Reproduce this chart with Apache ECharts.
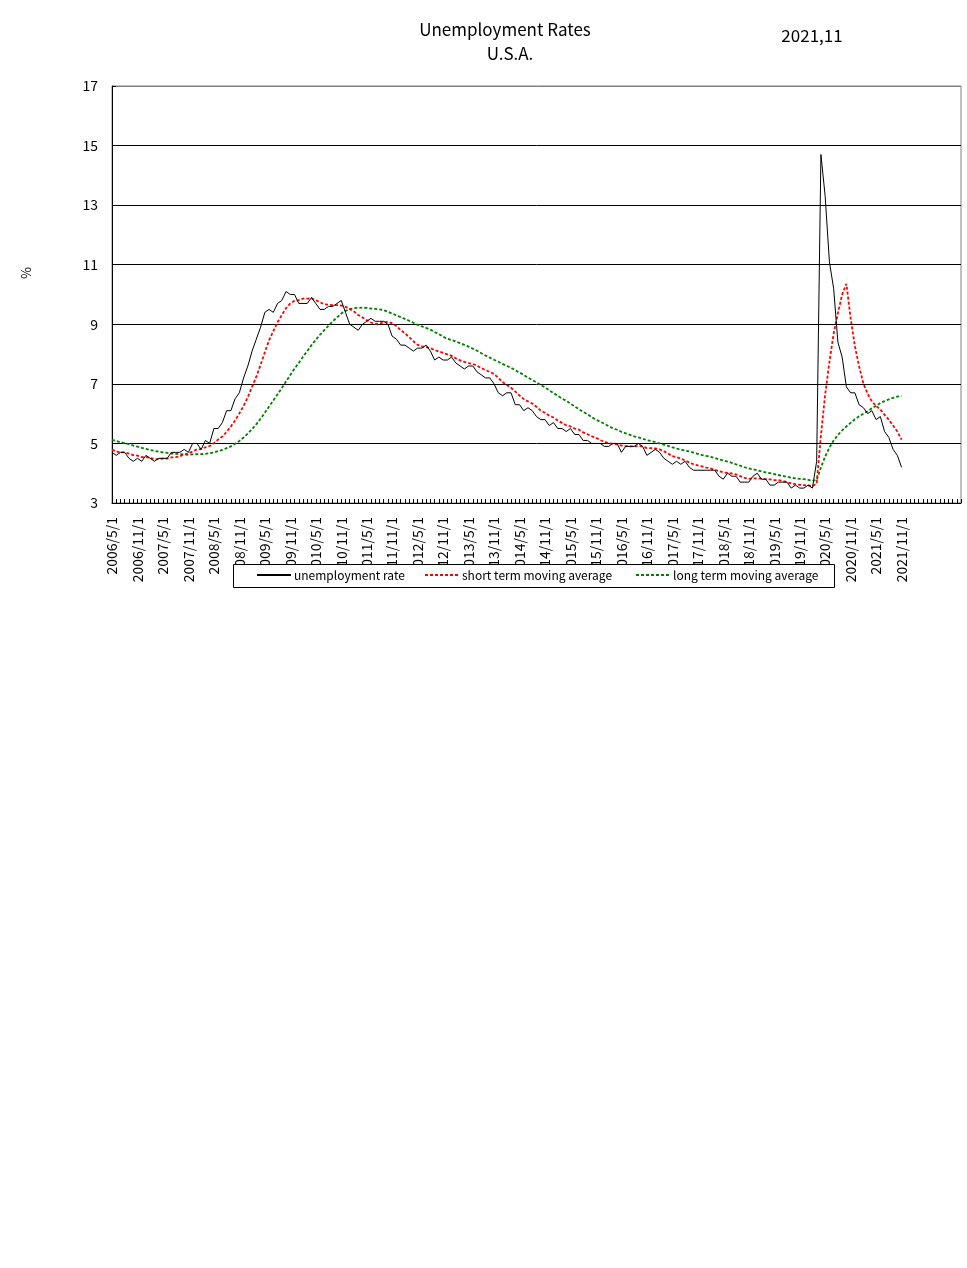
<!DOCTYPE html>
<html>
<head>
<meta charset="utf-8">
<script src="https://cdn.jsdelivr.net/npm/echarts@6/dist/echarts.min.js"></script>
<style>
html,body{margin:0;padding:0;background:#fff;}
#chart{width:967px;height:1268px;}
</style>
</head>
<body>
<div id="chart"></div>
<script>
// monthly categories 2006/5 .. 2021/11, axis continues with blank slots
const startYear = 2006, startMonth = 5, dataMonths = 187, totalSlots = 201;
const categories = [];
for (let i = 0; i < totalSlots; i++) {
  const m = (startMonth - 1 + i) % 12 + 1;
  const y = startYear + Math.floor((startMonth - 1 + i) / 12);
  categories.push(i < dataMonths ? (y + '/' + m + '/1') : '');
}

const unemploymentRate = [
  4.7,4.6,4.7,4.7,4.5,4.4,4.5,4.4,
  4.6,4.5,4.4,4.5,4.5,4.5,4.7,4.7,4.7,4.8,4.7,5.0,
  5.0,4.8,5.1,5.0,5.5,5.5,5.7,6.1,6.1,6.5,6.7,7.2,
  7.6,8.1,8.5,8.9,9.4,9.5,9.4,9.7,9.8,10.1,10.0,10.0,
  9.7,9.7,9.7,9.9,9.7,9.5,9.5,9.6,9.6,9.7,9.8,9.4,
  9.0,8.9,8.8,9.0,9.1,9.2,9.1,9.1,9.1,9.0,8.6,8.5,
  8.3,8.3,8.2,8.1,8.2,8.2,8.3,8.1,7.8,7.9,7.8,7.8,
  7.9,7.7,7.6,7.5,7.6,7.6,7.4,7.3,7.2,7.2,7.0,6.7,
  6.6,6.7,6.7,6.3,6.3,6.1,6.2,6.1,5.9,5.8,5.8,5.6,
  5.7,5.5,5.5,5.4,5.5,5.3,5.3,5.1,5.1,5.0,5.0,5.0,
  4.9,4.9,5.0,5.0,4.7,4.9,4.9,4.9,5.0,4.9,4.6,4.7,
  4.8,4.7,4.5,4.4,4.3,4.4,4.3,4.4,4.2,4.1,4.1,4.1,
  4.1,4.1,4.1,3.9,3.8,4.0,3.9,3.9,3.7,3.7,3.7,3.9,
  4.0,3.8,3.8,3.6,3.6,3.7,3.7,3.7,3.5,3.6,3.5,3.5,
  3.6,3.5,4.4,14.7,13.3,11.1,10.2,8.4,7.9,6.9,6.7,6.7,
  6.3,6.2,6.0,6.1,5.8,5.9,5.4,5.2,4.8,4.6,4.2
];

const shortTermMA = [
  4.79,4.73,4.70,4.70,4.66,4.61,4.59,4.54,
  4.54,4.51,4.47,4.47,4.49,4.49,4.53,4.54,4.57,4.63,4.66,4.73,
  4.80,4.81,4.87,4.91,5.01,5.13,5.23,5.39,5.57,5.77,6.01,6.26,
  6.56,6.90,7.24,7.64,8.06,8.46,8.77,9.07,9.31,9.54,9.70,9.79,
  9.81,9.86,9.86,9.87,9.81,9.74,9.67,9.66,9.64,9.64,9.63,9.59,
  9.51,9.43,9.31,9.23,9.14,9.06,9.01,9.03,9.06,9.09,9.03,8.94,
  8.81,8.70,8.57,8.43,8.31,8.26,8.23,8.20,8.13,8.09,8.04,7.99,
  7.94,7.86,7.79,7.74,7.70,7.67,7.61,7.53,7.46,7.40,7.33,7.20,
  7.06,6.96,6.87,6.74,6.61,6.49,6.41,6.34,6.23,6.10,6.03,5.93,
  5.87,5.77,5.69,5.61,5.57,5.50,5.46,5.37,5.31,5.24,5.19,5.11,
  5.06,5.00,4.99,4.97,4.93,4.91,4.90,4.90,4.91,4.90,4.84,4.84,
  4.83,4.80,4.74,4.66,4.57,4.54,4.49,4.43,4.36,4.30,4.26,4.23,
  4.19,4.16,4.11,4.07,4.03,4.01,3.99,3.96,3.90,3.84,3.81,3.83,
  3.83,3.81,3.80,3.79,3.77,3.77,3.74,3.70,3.66,3.63,3.61,3.60,
  3.59,3.56,3.66,5.26,6.64,7.73,8.69,9.37,10.00,10.36,9.21,8.27,
  7.59,7.01,6.67,6.41,6.26,6.14,5.96,5.80,5.60,5.40,5.13
];

const longTermMA = [
  5.12,5.08,5.04,5.01,4.98,4.93,4.89,4.85,
  4.82,4.78,4.75,4.72,4.70,4.68,4.66,4.65,4.64,4.63,4.62,4.63,
  4.64,4.64,4.65,4.67,4.70,4.74,4.78,4.84,4.90,4.99,5.08,5.20,
  5.33,5.48,5.65,5.83,6.03,6.24,6.44,6.65,6.86,7.08,7.30,7.51,
  7.70,7.91,8.10,8.30,8.48,8.65,8.80,8.95,9.10,9.23,9.36,9.45,
  9.51,9.54,9.55,9.56,9.55,9.53,9.52,9.50,9.47,9.42,9.36,9.30,
  9.24,9.18,9.12,9.05,8.98,8.93,8.88,8.82,8.74,8.67,8.58,8.52,
  8.47,8.42,8.37,8.31,8.25,8.18,8.11,8.03,7.95,7.88,7.81,7.74,
  7.67,7.60,7.54,7.46,7.38,7.30,7.21,7.13,7.05,6.96,6.88,6.78,
  6.69,6.60,6.51,6.43,6.34,6.24,6.15,6.06,5.98,5.88,5.80,5.73,
  5.66,5.58,5.51,5.46,5.39,5.34,5.29,5.24,5.20,5.16,5.11,5.08,
  5.04,5.00,4.96,4.92,4.87,4.83,4.79,4.76,4.73,4.69,4.65,4.61,
  4.58,4.55,4.51,4.46,4.43,4.39,4.35,4.30,4.25,4.20,4.16,4.13,
  4.10,4.06,4.03,4.00,3.97,3.94,3.91,3.88,3.85,3.83,3.81,3.80,
  3.78,3.75,3.76,4.19,4.56,4.86,5.10,5.28,5.44,5.57,5.69,5.81,
  5.91,6.00,6.08,6.18,6.26,6.36,6.42,6.48,6.53,6.57,6.60
];

const seriesNames = ['unemployment rate', 'short term moving average', 'long term moving average'];
const yTicks = {min: 3, max: 17, interval: 2};

const FONT = '"Noto Sans CJK JP", "Noto Sans", sans-serif';
const chart = echarts.init(document.getElementById('chart'), null, {renderer: 'canvas'});

const legendBase = {
  orient: 'horizontal', top: 569, padding: 0, itemWidth: 34, itemHeight: 14,
  z: 20, selectedMode: false,
  itemStyle: {opacity: 0, color: 'transparent', borderWidth: 0},
  textStyle: {fontFamily: FONT, fontSize: 12, color: '#000', padding: [0, 0, 0, -2]}
};

chart.setOption({
  animation: false,
  backgroundColor: '#fff',
  textStyle: {fontFamily: FONT},
  grid: {left: 112, right: 6, top: 86, bottom: 765, show: true, borderColor: '#808080', borderWidth: 1, backgroundColor: 'transparent'},
  legend: [
    Object.assign({}, legendBase, {left: 256, data: [seriesNames[0]]}),
    Object.assign({}, legendBase, {left: 424, data: [seriesNames[1]]}),
    Object.assign({}, legendBase, {left: 635, data: [seriesNames[2]]})
  ],
  graphic: [
    {type: 'text', z: 5, style: {text: 'Unemployment Rates', x: 505, y: 30, textAlign: 'center', textVerticalAlign: 'middle', font: '17px ' + FONT, fill: '#000'}},
    {type: 'text', z: 5, style: {text: 'U.S.A.', x: 510, y: 54, textAlign: 'center', textVerticalAlign: 'middle', font: '17px ' + FONT, fill: '#000'}},
    {type: 'text', z: 5, style: {text: '2021,11', x: 812, y: 36, textAlign: 'center', textVerticalAlign: 'middle', font: '17px ' + FONT, fill: '#000'}},
    {type: 'text', z: 5, x: 26, y: 273, rotation: Math.PI / 2, style: {text: '%', x: 0, y: 0, textAlign: 'center', textVerticalAlign: 'middle', font: '13px ' + FONT, fill: '#000'}},
    {type: 'rect', z: 10, shape: {x: 233.5, y: 564.5, width: 601, height: 23}, style: {fill: '#fff', stroke: '#000', lineWidth: 1}}
  ],
  xAxis: {
    type: 'category',
    data: categories,
    boundaryGap: false,
    axisLine: {show: true, lineStyle: {color: '#000', width: 1}},
    axisTick: {show: true, inside: true, length: 4, interval: 0, lineStyle: {color: '#000'}},
    axisLabel: {interval: 5, rotate: 90, margin: 14, fontSize: 14, color: '#000', fontFamily: FONT},
    splitLine: {show: false}
  },
  yAxis: {
    type: 'value',
    min: yTicks.min, max: yTicks.max, interval: yTicks.interval,
    axisLine: {show: true, lineStyle: {color: '#000', width: 1}},
    axisTick: {show: true, inside: true, length: 4, lineStyle: {color: '#000'}},
    axisLabel: {margin: 14, fontSize: 14, color: '#000', fontFamily: FONT},
    splitLine: {show: true, lineStyle: {color: ['#000','#000','#000','#000','#000','#000','#000','#808080'], width: 1}}
  },
  series: [
    {name: seriesNames[0], type: 'line', data: unemploymentRate, symbol: 'none', smooth: false,
     lineStyle: {color: '#000', width: 1}, itemStyle: {color: '#000'}, z: 4},
    {name: seriesNames[1], type: 'line', data: shortTermMA, symbol: 'none', smooth: false,
     lineStyle: {color: '#ff0000', width: 1.8, type: [3, 2]}, itemStyle: {color: '#ff0000'}, z: 3},
    {name: seriesNames[2], type: 'line', data: longTermMA, symbol: 'none', smooth: false,
     lineStyle: {color: '#008000', width: 1.8, type: [3, 2]}, itemStyle: {color: '#008000'}, z: 2}
  ]
});
</script>
</body>
</html>
